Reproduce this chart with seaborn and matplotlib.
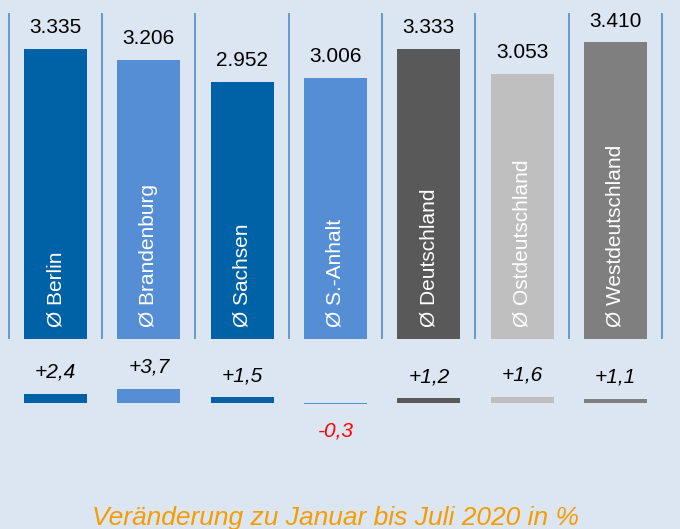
import numpy as np
import pandas as pd
import matplotlib
matplotlib.use("Agg")
import matplotlib.pyplot as plt
import seaborn as sns

# =========================
# DATA
# =========================

regions = ["Ø Berlin", "Ø Brandenburg", "Ø Sachsen", "Ø S.-Anhalt",
           "Ø Deutschland", "Ø Ostdeutschland", "Ø Westdeutschland"]

averages = [3335, 3206, 2952, 3006, 3333, 3053, 3410]

changes = [2.4, 3.7, 1.5, -0.3, 1.2, 1.6, 1.1]

bar_colors = ["#0062A6", "#558ED5", "#0062A6", "#558ED5",
              "#595959", "#BFBFBF", "#7F7F7F"]

footer = "Veränderung zu Januar bis Juli 2020 in %"

# =========================
# STYLE
# =========================

bg = "#DCE6F2"
sns.set_style("white")
plt.rcParams["font.family"] = ["Liberation Sans", "DejaVu Sans"]

df = pd.DataFrame({"region": regions, "avg": averages, "chg": changes})
palette = dict(zip(regions, bar_colors))

W, H = 680, 529
fig = plt.figure(figsize=(W / 100, H / 100), dpi=100)
fig.patch.set_facecolor(bg)

# pixel layout
step = 93.33
first_center = 55.5
xlim = (-first_center / step, (W - first_center) / step)
base_top = 339
px_per_eur = 290 / 3335
base_bot = 403
px_per_pct = 3.8

# =========================
# TOP: AVERAGES
# =========================

ax = fig.add_axes([0, (H - base_top) / H, 1, base_top / H])
ax.set_facecolor(bg)
sns.barplot(data=df, x="region", y="avg", hue="region", palette=palette,
            legend=False, width=0.675, saturation=1, linewidth=0, ax=ax)
ax.set_xlim(*xlim)
ax.set_ylim(0, base_top / px_per_eur)
ax.vlines(np.arange(len(regions) + 1) - 0.5, 0, (base_top - 13) / px_per_eur,
          color="#4F8CC9", lw=1.2)

for i, (name, v) in enumerate(zip(regions, averages)):
    ax.annotate(f"{v:,}".replace(",", "."), (i, v), xytext=(0, 11.5),
                textcoords="offset points", ha="center", va="baseline",
                fontsize=15, color="black")
    ax.annotate(name, (i, 0), xytext=(0, 8.6), textcoords="offset points",
                ha="center", va="bottom", rotation=90, fontsize=15,
                color="white")

ax.axis("off")

# =========================
# BOTTOM: CHANGES
# =========================

bot_top, bot_bottom = 340, 470
ax2 = fig.add_axes([0, (H - bot_bottom) / H, 1, (bot_bottom - bot_top) / H])
ax2.set_facecolor(bg)
sns.barplot(data=df, x="region", y="chg", hue="region", palette=palette,
            legend=False, width=0.675, saturation=1, linewidth=0, ax=ax2)
ax2.set_xlim(*xlim)
ax2.set_ylim(-(bot_bottom - base_bot) / px_per_pct,
             (base_bot - bot_top) / px_per_pct)

for i, v in enumerate(changes):
    label = f"{v:+.1f}".replace(".", ",")
    if v >= 0:
        ax2.annotate(label, (i, v), xytext=(0, 11.5), textcoords="offset points",
                     ha="center", va="baseline", fontsize=15, style="italic",
                     color="black")
    else:
        ax2.annotate(label, (i, v), xytext=(0, -23.5), textcoords="offset points",
                     ha="center", va="baseline", fontsize=15, style="italic",
                     color="#FF0000")

ax2.axis("off")

# =========================
# FOOTER
# =========================

fig.text(336 / W, 4 / H, footer, ha="center", va="baseline", fontsize=19,
         style="italic", color="#F59C00")

fig.savefig("out.png", dpi=100, facecolor=bg)
